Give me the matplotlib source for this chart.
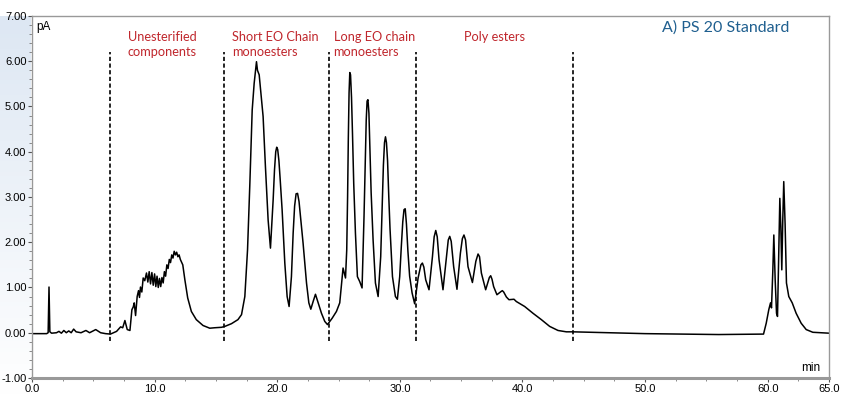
import numpy as np
import matplotlib.pyplot as plt
from matplotlib.colors import LinearSegmentedColormap
from matplotlib.ticker import MultipleLocator, FormatStrFormatter

# chromatogram trace: retention time (min), signal (pA)
time_min = [
    0.0, 1.2, 1.32, 1.39, 1.46, 1.6, 2.0, 2.2, 2.4, 2.6, 2.8, 3.0, 3.2, 3.4, 3.6,
    4.0, 4.4, 4.7, 5.2, 5.6, 6.0, 6.4,
    6.9, 7.23, 7.4, 7.58, 7.77, 7.99, 8.15, 8.26, 8.34, 8.45, 8.58, 8.69, 8.77,
    8.85, 8.96, 9.07, 9.2, 9.34, 9.45, 9.56, 9.67, 9.78, 9.89, 10.0, 10.1, 10.2,
    10.3, 10.4, 10.5, 10.6, 10.7, 10.8, 10.9, 11.0, 11.1, 11.2, 11.3, 11.4, 11.5,
    11.6, 11.7, 11.8, 11.9, 12.0, 12.1, 12.3, 12.47, 12.7, 13.0, 13.4, 13.95,
    14.5, 14.9, 15.46, 15.73,
    16.27, 16.8, 17.09, 17.36, 17.58, 17.77, 17.96, 18.12, 18.31, 18.39, 18.53,
    18.72, 18.85, 19.04, 19.26, 19.45, 19.67, 19.78, 19.88, 19.96, 20.04, 20.14,
    20.24, 20.4, 20.62, 20.81, 20.97, 21.16, 21.3, 21.42, 21.54, 21.66, 21.78,
    21.92, 22.11, 22.39, 22.58, 22.74, 22.93, 23.12, 23.34, 23.61, 23.88, 24.1,
    24.48, 24.83, 25.1, 25.37, 25.57, 25.67, 25.74, 25.8, 25.86, 25.92, 25.98,
    26.06, 26.14, 26.24, 26.38, 26.54, 26.73, 26.92, 27.08, 27.18, 27.26, 27.33,
    27.4, 27.48, 27.56, 27.66, 27.82, 28.01, 28.23, 28.44, 28.56, 28.66, 28.75,
    28.83, 28.91, 29.0, 29.1, 29.2, 29.4, 29.64, 29.8, 29.99, 30.12, 30.24,
    30.34, 30.44, 30.54, 30.66, 30.8, 31.0, 31.21,
    31.49, 31.72, 31.84, 31.96, 32.11, 32.38, 32.66, 32.8, 32.93, 33.05, 33.2,
    33.52, 33.8, 33.95, 34.07, 34.19, 34.39, 34.66, 34.94, 35.1, 35.23, 35.36,
    35.56, 35.92, 36.2, 36.38, 36.5, 36.65, 37.0, 37.3, 37.41, 37.52, 37.65,
    37.92, 38.25, 38.36, 38.47, 38.69, 38.9, 39.31, 39.5, 40.18, 40.86, 41.54,
    42.22, 42.9, 43.58, 44.12, 47.0, 50.0, 53.0, 56.0, 59.66,
    59.88, 60.09, 60.23, 60.31, 60.42, 60.5, 60.61, 60.72, 60.8, 60.9, 60.99,
    61.07, 61.15, 61.23, 61.31, 61.42, 61.53, 61.72, 62.0, 62.32, 62.73, 63.14,
    63.68, 65.0,
]
signal_pa = [
    -0.02, -0.02, 0.0, 1.01, 0.02, -0.01, 0.0, 0.03, -0.01, 0.05, 0.0, 0.04, 0.0, 0.08, 0.02,
    0.0, 0.05, 0.0, 0.07, 0.0, -0.02, -0.03,
    0.03, 0.13, 0.11, 0.27, 0.07, 0.05, 0.51, 0.57, 0.66, 0.38, 0.80, 0.93, 0.78,
    1.01, 0.90, 1.21, 1.15, 1.32, 1.12, 1.35, 1.08, 1.33, 1.05, 1.30, 1.02, 1.25,
    1.00, 1.20, 1.02, 1.22, 1.10, 1.35, 1.25, 1.50, 1.42, 1.62, 1.55, 1.72, 1.65,
    1.80, 1.72, 1.78, 1.68, 1.72, 1.62, 1.50, 1.17, 0.77, 0.47, 0.29, 0.16,
    0.10, 0.11, 0.12, 0.14,
    0.20, 0.29, 0.40, 0.80, 1.83, 3.30, 4.92, 5.51, 5.99, 5.80, 5.70,
    5.14, 4.78, 3.67, 2.49, 1.87, 2.94, 3.60, 4.00, 4.10, 4.05, 3.80,
    3.40, 2.72, 1.54, 0.80, 0.58, 1.24, 2.20, 2.80, 3.07, 3.08, 2.90,
    2.50, 1.98, 1.10, 0.66, 0.52, 0.69, 0.85, 0.66, 0.43, 0.25, 0.18,
    0.32, 0.47, 0.66, 1.43, 1.21, 1.83, 3.00, 4.30, 5.30, 5.75, 5.70,
    5.20, 4.40, 3.30, 2.20, 1.24, 1.13, 0.99, 2.57, 3.80, 4.70, 5.12,
    5.15, 4.85, 4.10, 3.10, 2.05, 1.10, 0.80, 1.68, 2.80, 3.70, 4.20,
    4.33, 4.20, 3.80, 3.00, 2.30, 1.24, 0.80, 0.74, 1.24, 1.90, 2.45,
    2.72, 2.74, 2.40, 1.80, 1.25, 0.88, 0.64,
    1.21, 1.50, 1.54, 1.45, 1.17, 0.95, 1.68, 2.12, 2.26, 2.12, 1.61,
    0.95, 1.68, 2.05, 2.13, 2.02, 1.46, 0.96, 1.76, 2.08, 2.16, 2.05,
    1.46, 1.11, 1.58, 1.74, 1.68, 1.32, 0.95, 1.22, 1.26, 1.18, 1.02,
    0.84, 0.91, 0.93, 0.90, 0.79, 0.73, 0.74, 0.69, 0.58, 0.43, 0.29,
    0.14, 0.05, 0.02, 0.02, 0.0, -0.02, -0.03, -0.04, -0.03,
    0.21, 0.51, 0.66, 0.55, 1.39, 2.16, 1.17, 0.43, 0.36, 1.76, 2.97,
    2.35, 1.39, 2.49, 3.34, 2.40, 1.10, 0.80, 0.66, 0.43, 0.21, 0.07,
    0.01, -0.01,
]

# region boundaries (min) and labels
boundaries = [6.36, 15.65, 24.2, 31.3, 44.1]
region_labels = ["Unesterified\ncomponents", "Short EO Chain\nmonoesters",
                 "Long EO chain\nmonoesters", "Poly esters"]
label_x = [7.82, 16.3, 24.6, 35.2]

fig = plt.figure(figsize=(8.5, 3.98), dpi=100)

# pale blue strip left of the plot area
bg = fig.add_axes([0, 0, 0.036, 0.96], zorder=-1)
pale = LinearSegmentedColormap.from_list("pale", ["#ffffff", "#dde7f3"])
grad = np.linspace(1, 0, 100).reshape(-1, 1)
bg.imshow(grad, aspect="auto", cmap=pale, extent=[0, 1, 0, 1])
bg.axis("off")

ax = fig.add_axes([0.0376, 0.0503, 0.9377, 0.9095])
ax.patch.set_alpha(0)
ax.plot(time_min, signal_pa, color="black", lw=1.1)

for b in boundaries:
    ax.plot([b, b], [-0.18, 6.2], color="black", lw=1.2, ls=(0, (2.5, 1.5)))

for x, lab in zip(label_x, region_labels):
    ax.text(x, 6.67, lab, color="#c0272d", fontsize=9.2, family="Lato",
            va="top", ha="left", linespacing=1.35)

ax.text(51.4, 6.9, "A) PS 20 Standard", color="#1f5f8f", fontsize=11.5,
        family="Lato", va="top", ha="left")
ax.text(0.006, 0.985, "pA", transform=ax.transAxes, fontsize=8.5,
        family="Liberation Sans", va="top", ha="left")
ax.text(0.989, 0.012, "min", transform=ax.transAxes, fontsize=8.5,
        family="Liberation Sans", va="bottom", ha="right")

ax.set_xlim(0, 65)
ax.set_ylim(-1, 7)
ax.set_xticks([0, 10, 20, 30, 40, 50, 60, 65])
ax.xaxis.set_major_formatter(FormatStrFormatter("%.1f"))
ax.xaxis.set_minor_locator(MultipleLocator(2.5))
ax.yaxis.set_major_locator(MultipleLocator(1))
ax.yaxis.set_minor_locator(MultipleLocator(0.2))
ax.yaxis.set_major_formatter(FormatStrFormatter("%.2f"))
for lab in ax.get_xticklabels() + ax.get_yticklabels():
    lab.set_family("Liberation Sans")
    lab.set_fontsize(8)
ax.tick_params(which="major", length=3, width=0.8, color="#555555", pad=1)
ax.tick_params(which="minor", length=2, width=0.6, color="#777777")

for s in ["top", "right", "left"]:
    ax.spines[s].set_color("#999999")
    ax.spines[s].set_linewidth(1.0)
ax.spines["bottom"].set_color("#999999")
ax.spines["bottom"].set_linewidth(2.2)

fig.savefig("out.png", dpi=100)
